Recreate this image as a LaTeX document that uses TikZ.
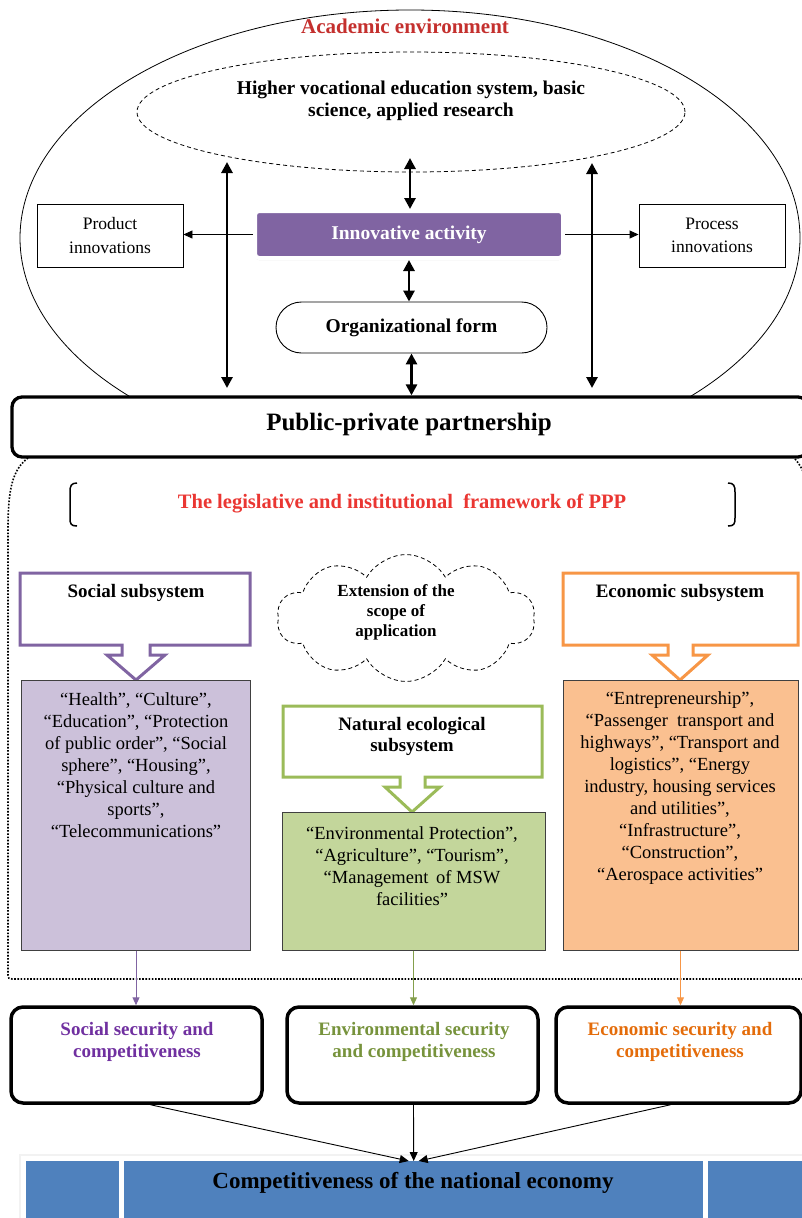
\documentclass[tikz,border=0pt]{standalone}
\usepackage{fontspec}
\setmainfont{Liberation Serif}
\usetikzlibrary{arrows.meta,shapes.geometric,shapes.misc,shapes.symbols,shadows,calc}

\definecolor{acadred}{RGB}{196,48,46}
\definecolor{lawred}{RGB}{234,54,50}
\definecolor{ppurple}{HTML}{8064A2}
\definecolor{psoft}{HTML}{CCC1DA}
\definecolor{ptext}{HTML}{7030A0}
\definecolor{ggreen}{HTML}{9BBB59}
\definecolor{gsoft}{HTML}{C3D69B}
\definecolor{gtext}{HTML}{77933C}
\definecolor{oorange}{HTML}{F79646}
\definecolor{osoft}{HTML}{FAC090}
\definecolor{otext}{HTML}{E46C0A}
\definecolor{barblue}{HTML}{4F81BD}

\newcommand{\fsz}[2]{\fontsize{#1}{#2}\selectfont}

\tikzset{
  txt/.style={inner sep=0pt, align=center},
  bigarrow/.style={line width=2.9pt,
    {Triangle[length=11pt,width=11pt]}-{Triangle[length=11pt,width=11pt]}},
  thinarrow/.style={line width=0.9pt, -{Triangle[length=9pt,width=8pt]}},
  colarrow/.style={line width=1pt, -{Triangle[length=8pt,width=7pt]}},
  plainbox/.style={draw, line width=0.9pt, inner sep=0pt},
  listbox/.style={draw=black!75, line width=1pt, inner sep=0pt},
  callout/.style={line width=3pt, line join=miter, fill=white},
  secbox/.style={draw, line width=3.5pt, rounded corners=12pt, fill=white, inner sep=0pt},
  dotline/.style={line width=1.6pt, dash pattern=on 1.6pt off 1.6pt},
  bluecell/.style={fill=barblue, inner sep=0pt, anchor=north west},
}

\begin{document}
\begin{tikzpicture}[x=1pt,y=-1pt]
\path[use as bounding box] (0,0) rectangle (802,1218);
\clip (0,0) rectangle (802,1218);

% ---------- academic environment ----------
\begin{scope}
  \clip (0,0) rectangle (802,420);
  \draw[line width=0.8pt] (410,238) ellipse [x radius=390, y radius=228];
\end{scope}
\node[txt, text=acadred, font=\bfseries\fsz{21}{24}] (acad) at (405,26) {Academic environment};

\node[ellipse, draw, line width=0.8pt, dash pattern=on 4pt off 3pt,
      minimum width=548pt, minimum height=120pt] (hves) at (411,112) {};
\node[txt, font=\bfseries\fsz{19.5}{22}] (hvestext) at (411,101)
  {Higher vocational education system, basic\\science, applied research};

% ---------- innovation core ----------
\node[plainbox, minimum width=146pt, minimum height=63pt, align=center,
      font=\fsz{17.5}{23.5}] (prod) at (110,235.5) {Product\\innovations};
\node[plainbox, minimum width=146pt, minimum height=63pt, align=center,
      font=\fsz{17.5}{23.5}] (proc) at (712,235.5) {Process\\innovations};

\node[fill=ppurple, draw=white, line width=4pt, rounded corners=4pt,
      minimum width=308pt, minimum height=47pt, inner sep=0pt,
      drop shadow={shadow xshift=0pt, shadow yshift=-2pt, opacity=0.35, fill=black!60},
      text=white, font=\bfseries\fsz{19.5}{22}] (innov) at (409,234.5) {Innovative activity};

\node[rounded rectangle, draw, line width=0.9pt, minimum width=271pt,
      minimum height=51pt, inner sep=0pt, font=\bfseries\fsz{19.5}{22}]
      (org) at (411.5,327.5) {Organizational form};

% ---------- public-private partnership ----------
\node[draw, line width=3.3pt, rounded corners=10pt, fill=white,
      minimum width=796pt, minimum height=60pt, inner sep=0pt] (ppp) at (410,427) {};
\node[txt, font=\bfseries\fsz{25}{28}] (ppptext) at (409,424) {Public-private partnership};

% arrows of the upper part
\coordinate (hvesfoot) at (410,158);
\draw[bigarrow] (hvesfoot) -- (hvesfoot |- innov.north);
\draw[bigarrow] (innov.south) -- (innov.south |- org.north);
\draw[bigarrow] (org.south) -- (org.south |- ppp.north);
\coordinate (lt) at (227,162); \coordinate (lb) at (227,388);
\coordinate (rt) at (592,163); \coordinate (rb) at (592,388);
\draw[bigarrow] (lt) -- (lb);
\draw[bigarrow] (rt) -- (rb);
\draw[thinarrow] (innov.west) -- (prod.east |- innov.west);
\draw[thinarrow] (innov.east) -- (proc.west |- innov.east);

% ---------- institutional framework ----------
\draw[dotline] (28,458) .. controls (12,470) and (8,490) .. (8,530) -- (8,975)
  .. controls (8,978) and (9,979) .. (12,979) -- (812,979);
\draw[dotline] (795,459) .. controls (805,470) and (812,490) .. (815,530);

\draw[line width=1.5pt] (77,483) .. controls (71,483) and (70,486) .. (70,492) -- (70,518)
  .. controls (70,524) and (71,526) .. (77,526);
\draw[line width=1.5pt] (728,483) .. controls (734,483) and (735,486) .. (735,492) -- (735,518)
  .. controls (735,524) and (734,526) .. (728,526);
\node[txt, text=lawred, font=\bfseries\fsz{20.5}{24}] (law) at (402,504)
  {The legislative and institutional\ \ framework of PPP};

% subsystem callouts
\draw[callout, draw=ppurple] (20,573) -- (250,573) -- (250,645) -- (150,645) -- (150,655)
  -- (165,655) -- (136,680) -- (107,655) -- (122,655) -- (122,645) -- (20,645) -- cycle;
\node[txt, font=\bfseries\fsz{19}{22}] (soc) at (136,593) {Social subsystem};

\draw[callout, draw=oorange] (563,573) -- (798,573) -- (798,645) -- (693,645) -- (693,655)
  -- (708,655) -- (680,680) -- (652,655) -- (668,655) -- (668,645) -- (563,645) -- cycle;
\node[txt, font=\bfseries\fsz{19}{22}] (eco) at (680,593) {Economic subsystem};

\node[cloud, draw, line width=0.8pt, dash pattern=on 4pt off 3pt, cloud puffs=10,
      cloud puff arc=120, cloud ignores aspect, minimum width=258pt,
      minimum height=127pt] (cloud) at (406,618) {};
\node[txt, font=\bfseries\fsz{17}{20}] (cloudtext) at (396,612)
  {Extension of the\\scope of\\application};

% list boxes
\node[listbox, fill=psoft, minimum width=229pt, minimum height=270pt] (soclist) at (136,815) {};
\node[txt, anchor=north, font=\fsz{18.5}{22}] (soctext) at (136,692)
  {“Health”, “Culture”,\\“Education”, “Protection\\of public order”, “Social\\sphere”, “Housing”,\\“Physical culture and\\sports”,\\“Telecommunications”};

\node[listbox, fill=osoft, minimum width=235pt, minimum height=270pt] (ecolist) at (680.5,815) {};
\node[txt, anchor=north, font=\fsz{18.5}{22}] (ecotext) at (680,691)
  {“Entrepreneurship”,\\“Passenger\ \ transport and\\highways”, “Transport and\\logistics”, “Energy\\industry, housing services\\and utilities”,\\“Infrastructure”,\\“Construction”,\\“Aerospace activities”};

\draw[callout, draw=ggreen] (283,706) -- (542,706) -- (542,777) -- (425,777) -- (425,787)
  -- (440,787) -- (412,812) -- (385,787) -- (400,787) -- (400,777) -- (283,777) -- cycle;
\node[txt, font=\bfseries\fsz{19}{21}] (nat) at (412,736) {Natural ecological\\subsystem};

\node[listbox, fill=gsoft, minimum width=263pt, minimum height=138pt] (natlist) at (413.5,881) {};
\node[txt, anchor=north, font=\fsz{18.5}{22}] (nattext) at (412,826)
  {“Environmental Protection”,\\“Agriculture”, “Tourism”,\\“Management\ \,of MSW\\facilities”};

% ---------- security and competitiveness ----------
\node[secbox, minimum width=251pt, minimum height=96pt] (socsec) at (136.5,1055) {};
\node[secbox, minimum width=251pt, minimum height=96pt] (natsec) at (412.5,1055) {};
\node[secbox, minimum width=245pt, minimum height=96pt] (ecosec) at (678.5,1055) {};
\node[txt, text=ptext, font=\bfseries\fsz{19}{22.5}] (socsectext) at (137,1042)
  {Social security and\\competitiveness};
\node[txt, text=gtext, font=\bfseries\fsz{19}{22.5}] (natsectext) at (414,1042)
  {Environmental security\\and competitiveness};
\node[txt, text=otext, font=\bfseries\fsz{19}{22.5}] (ecosectext) at (680,1042)
  {Economic security and\\competitiveness};

\draw[colarrow, draw=ppurple, fill=ppurple] (soclist.south) -- (soclist.south |- socsec.north);
\draw[colarrow, draw=ggreen!85!black, fill=ggreen!85!black] (natlist.south) -- (natlist.south |- natsec.north);
\draw[colarrow, draw=oorange, fill=oorange] (ecolist.south) -- (ecolist.south |- ecosec.north);

% ---------- national economy bar ----------
\fill[black!5] (19,1154) rectangle (812,1230);
\fill[white] (21,1156) rectangle (812,1230);
\node[bluecell, minimum width=93pt, minimum height=60pt] (cellL) at (26,1161) {};
\node[bluecell, minimum width=579pt, minimum height=60pt] (comp) at (124,1161) {};
\node[bluecell, minimum width=110pt, minimum height=60pt] (cellR) at (708,1161) {};
\node[txt, font=\bfseries\fsz{23}{26}] (comptext) at (413,1183)
  {Competitiveness of the national economy};

\draw[thinarrow] ([xshift=14pt]socsec.south) -- ([xshift=-5pt]comp.north);
\draw[thinarrow] ([xshift=1pt]natsec.south) -- (comp.north);
\draw[thinarrow] ([xshift=-8pt]ecosec.south) -- ([xshift=5pt]comp.north);
\end{tikzpicture}
\end{document}
